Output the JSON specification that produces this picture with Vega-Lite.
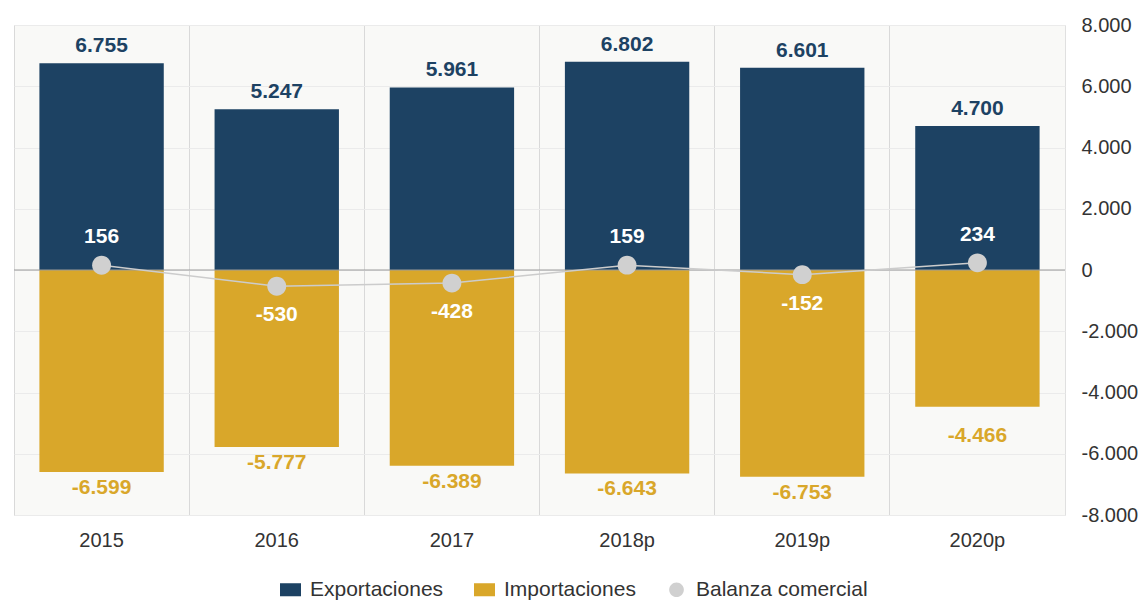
{
  "$schema": "https://vega.github.io/schema/vega-lite/v6.json",
  "width": 1051,
  "height": 490,
  "autosize": "none",
  "padding": {"left": 14, "top": 25, "right": 79, "bottom": 85},
  "background": "white",
  "config": {
    "locale": {"number": {"decimal": ",", "thousands": ".", "grouping": [3], "currency": ["", ""], "minus": "-"}},
    "font": "Liberation Sans",
    "view": {"fill": "#f9f9f7", "stroke": "#e0e0e0"}
  },
  "data": {
    "values": [
      {"year": "2015", "series": "Exportaciones", "value": 6755},
      {"year": "2016", "series": "Exportaciones", "value": 5247},
      {"year": "2017", "series": "Exportaciones", "value": 5961},
      {"year": "2018p", "series": "Exportaciones", "value": 6802},
      {"year": "2019p", "series": "Exportaciones", "value": 6601},
      {"year": "2020p", "series": "Exportaciones", "value": 4700},
      {"year": "2015", "series": "Importaciones", "value": -6599},
      {"year": "2016", "series": "Importaciones", "value": -5777},
      {"year": "2017", "series": "Importaciones", "value": -6389},
      {"year": "2018p", "series": "Importaciones", "value": -6643},
      {"year": "2019p", "series": "Importaciones", "value": -6753},
      {"year": "2020p", "series": "Importaciones", "value": -4466},
      {"year": "2015", "series": "Balanza comercial", "value": 156},
      {"year": "2016", "series": "Balanza comercial", "value": -530},
      {"year": "2017", "series": "Balanza comercial", "value": -428},
      {"year": "2018p", "series": "Balanza comercial", "value": 159},
      {"year": "2019p", "series": "Balanza comercial", "value": -152},
      {"year": "2020p", "series": "Balanza comercial", "value": 234}
    ]
  },
  "encoding": {
    "x": {
      "field": "year", "type": "nominal", "sort": null,
      "scale": {"paddingInner": 0.29, "paddingOuter": 0.145},
      "axis": {"title": null, "labelAngle": 0, "labelFontSize": 20, "labelColor": "#333333", "labelPadding": 15, "ticks": false, "domain": false, "grid": true, "gridColor": "#d9d9d9", "bandPosition": -0.2042}
    },
    "y": {
      "field": "value", "type": "quantitative",
      "scale": {"domain": [-8000, 8000]},
      "axis": {"title": null, "orient": "right", "values": [-8000, -6000, -4000, -2000, 0, 2000, 4000, 6000, 8000], "format": ",d", "labelFontSize": 20, "labelColor": "#333333", "labelPadding": 16, "labelAlign": "left", "ticks": false, "domain": false, "grid": true, "gridColor": "#ebebeb"}
    }
  },
  "layer": [
    {
      "transform": [{"filter": "datum.series !== 'Balanza comercial'"}],
      "mark": {"type": "bar"},
      "encoding": {
        "color": {
          "field": "series", "type": "nominal",
          "scale": {"domain": ["Exportaciones", "Importaciones", "Balanza comercial"], "range": ["#1d4263", "#d9a72a", "#d0d0d0"]},
          "legend": {"title": null, "orient": "none", "legendX": 266, "legendY": 554, "direction": "horizontal", "labelFontSize": 21, "labelColor": "#333333", "labelLimit": 400, "symbolSize": 441, "labelOffset": 9, "columnPadding": 30, "padding": 0, "symbolStrokeWidth": 0, "symbolOpacity": 1}
        }
      }
    },
    {
      "data": {"values": [{"z": 0}]},
      "mark": {"type": "rule", "color": "#9a9a9a", "strokeWidth": 1},
      "encoding": {"y": {"field": "z", "type": "quantitative"}, "x": null}
    },
    {
      "transform": [{"filter": "datum.series === 'Balanza comercial'"}],
      "mark": {"type": "line", "color": "#cccccc", "strokeWidth": 1.5},
      "encoding": {}
    },
    {
      "transform": [{"filter": "datum.series === 'Balanza comercial'"}],
      "mark": {"type": "point", "filled": true, "opacity": 1, "size": 730, "strokeWidth": 0},
      "encoding": {
        "color": {"field": "series", "type": "nominal"},
        "shape": {
          "field": "series", "type": "nominal",
          "scale": {"domain": ["Exportaciones", "Importaciones", "Balanza comercial"], "range": ["M-1,-0.62H1V0.62H-1Z", "M-1,-0.62H1V0.62H-1Z", "M-0.7,0A0.7,0.7 0 1,0 0.7,0A0.7,0.7 0 1,0 -0.7,0Z"]}
        }
      }
    },
    {
      "transform": [{"filter": "datum.series === 'Exportaciones'"}],
      "mark": {"type": "text", "fontSize": 21, "fontWeight": "bold", "color": "#1d4263", "baseline": "alphabetic", "dy": -11},
      "encoding": {"text": {"field": "value", "type": "quantitative", "format": ",d"}}
    },
    {
      "transform": [{"filter": "datum.series === 'Importaciones' && datum.year !== '2020p'"}],
      "mark": {"type": "text", "fontSize": 21, "fontWeight": "bold", "color": "#d9a72a", "baseline": "top", "dy": 5},
      "encoding": {"text": {"field": "value", "type": "quantitative", "format": ",d"}}
    },
    {
      "transform": [{"filter": "datum.series === 'Importaciones' && datum.year === '2020p'"}],
      "mark": {"type": "text", "fontSize": 21, "fontWeight": "bold", "color": "#d9a72a", "baseline": "top", "dy": 18},
      "encoding": {"text": {"field": "value", "type": "quantitative", "format": ",d"}}
    },
    {
      "transform": [{"filter": "datum.series === 'Balanza comercial' && datum.value >= 0"}],
      "mark": {"type": "text", "fontSize": 21, "fontWeight": "bold", "color": "#ffffff", "baseline": "alphabetic", "dy": -22},
      "encoding": {"text": {"field": "value", "type": "quantitative", "format": ",d"}}
    },
    {
      "transform": [{"filter": "datum.series === 'Balanza comercial' && datum.value < 0"}],
      "mark": {"type": "text", "fontSize": 21, "fontWeight": "bold", "color": "#ffffff", "baseline": "alphabetic", "dy": 35},
      "encoding": {"text": {"field": "value", "type": "quantitative", "format": ",d"}}
    }
  ]
}
